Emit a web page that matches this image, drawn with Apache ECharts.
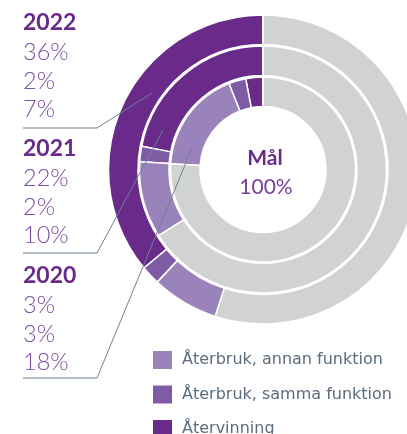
<!DOCTYPE html>
<html><head><meta charset="utf-8">
<script src="https://cdn.jsdelivr.net/npm/echarts@6/dist/echarts.min.js"></script>
<style>html,body{margin:0;padding:0;background:#fff}#c{width:407px;height:434px}</style>
</head><body><div id="c"></div>
<script>
var categories = ['Återvinning', 'Återbruk, samma funktion', 'Återbruk, annan funktion'];
var legendOrder = ['Återbruk, annan funktion', 'Återbruk, samma funktion', 'Återvinning'];
var years = ['2022', '2021', '2020'];
var values2022 = [36, 2, 7];
var values2021 = [22, 2, 10];
var values2020 = [3, 3, 18];
var goalLabel = 'Mål';
var goalValue = '100%';

var colors = {'Återvinning': '#6a2a8a', 'Återbruk, samma funktion': '#7f5ba6', 'Återbruk, annan funktion': '#9a83bb'};
var grey = '#d1d2d2';
var FONT = 'Lato, "Open Sans", sans-serif';

function ringData(vals) {
  var d = categories.map(function (c, i) { return {name: c, value: vals[i], itemStyle: {color: colors[c]}}; });
  var rest = 100 - vals.reduce(function (a, b) { return a + b; }, 0);
  d.push({name: 'Övrigt', value: rest, itemStyle: {color: grey}});
  return d;
}
function ring(vals, radius) {
  return {
    type: 'pie', center: [263, 169.5], radius: radius, startAngle: 90, clockwise: false,
    silent: true, label: {show: false}, labelLine: {show: false}, animation: false,
    itemStyle: {borderColor: '#fff', borderWidth: 1.5},
    data: ringData(vals)
  };
}

var allVals = [values2022, values2021, values2020];
var blockTop = [24, 150, 277];
var lineY = [128, 253, 378];
var lineEnd = [[152, 93], [163, 130], [192, 148]];
var graphics = [];
years.forEach(function (y, i) {
  graphics.push({type: 'text', left: 23, top: blockTop[i] - 13, style: {text: y, font: 'bold 23px ' + FONT, fill: '#6a2a8a'}});
  allVals[i].forEach(function (v, j) {
    graphics.push({type: 'text', left: 23, top: blockTop[i] - 13 + 29 * (j + 1) - (j === 2 ? 1 : 0), style: {text: v + '%', font: '300 23.5px ' + FONT, fill: '#7d4ea1'}});
  });
  graphics.push({type: 'polyline', shape: {points: [[23, lineY[i]], [97, lineY[i]], lineEnd[i]]}, style: {stroke: '#6f8191', lineWidth: 1, fill: null}, z: 10});
});
graphics.push({type: 'text', x: 265, y: 158, style: {text: goalLabel, font: 'bold 21px ' + FONT, fill: '#6a2a8a', align: 'center', verticalAlign: 'middle'}});
graphics.push({type: 'text', x: 266, y: 187, style: {text: goalValue, font: '21px ' + FONT, fill: '#7a3f99', align: 'center', verticalAlign: 'middle'}});

var chart = echarts.init(document.getElementById('c'), null, {renderer: 'canvas'});
chart.setOption({
  animation: false,
  legend: {
    orient: 'vertical', left: 151, top: 349, height: 120, width: 256, padding: 0,
    itemWidth: 21, itemHeight: 20, itemGap: 12.5,
    icon: 'rect', selectedMode: false, data: legendOrder,
    textStyle: {color: '#5c6c7c', fontSize: 16, fontFamily: '"DejaVu Sans", sans-serif', padding: [0, 0, 0, 4]}
  },
  graphic: graphics,
  series: [
    ring(values2022, [125, 154.5]),
    ring(values2021, [94, 123.5]),
    ring(values2020, [63, 92.5])
  ]
});
</script></body></html>
